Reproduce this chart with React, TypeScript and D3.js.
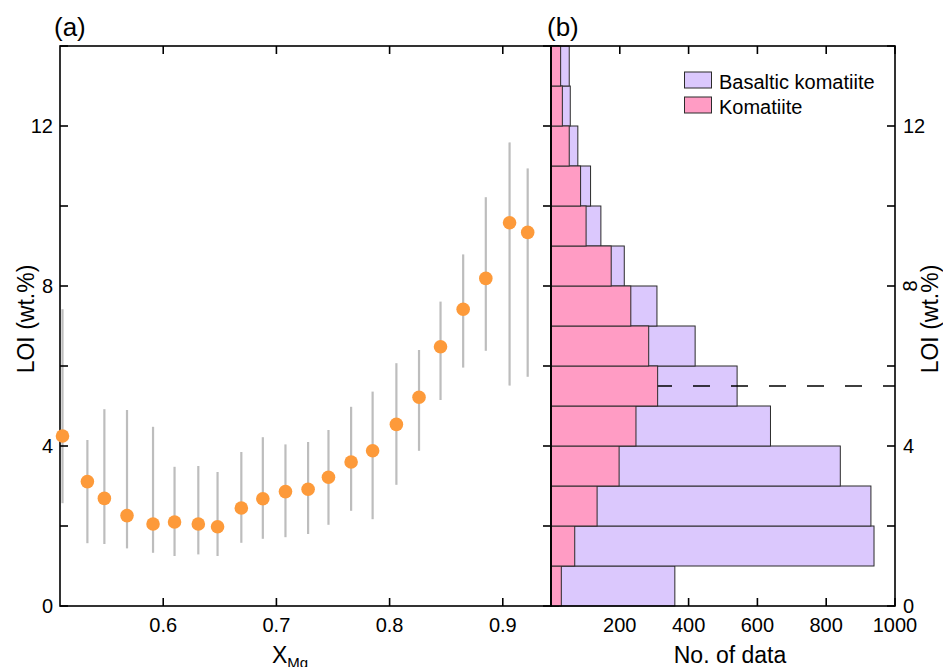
import React from "react";
import * as d3 from "d3";

const xmg = [0.511, 0.533, 0.548, 0.568, 0.591, 0.610, 0.631, 0.648, 0.669, 0.688, 0.708, 0.728, 0.746, 0.766, 0.785, 0.806, 0.826, 0.845, 0.865, 0.885, 0.906, 0.922];
const loi = [4.25, 3.11, 2.69, 2.26, 2.05, 2.10, 2.05, 1.98, 2.45, 2.68, 2.86, 2.92, 3.22, 3.60, 3.88, 4.54, 5.22, 6.48, 7.42, 8.19, 9.58, 9.34];
const errHigh = [7.42, 4.15, 4.92, 4.90, 4.48, 3.48, 3.50, 3.35, 3.85, 4.22, 4.04, 4.10, 4.40, 4.98, 5.36, 6.07, 6.40, 7.61, 8.79, 10.22, 11.59, 10.94];
const errLow = [2.57, 1.57, 1.55, 1.44, 1.33, 1.25, 1.29, 1.25, 1.58, 1.68, 1.72, 1.80, 2.03, 2.38, 2.17, 3.03, 3.88, 5.15, 5.96, 6.38, 5.51, 5.73];

const binStart = [0, 1, 2, 3, 4, 5, 6, 7, 8, 9, 10, 11, 12, 13];
const basaltic = [360, 939, 930, 841, 638, 541, 419, 308, 213, 145, 115, 78, 56, 53];
const komatiite = [30, 69, 134, 198, 247, 310, 284, 232, 175, 102, 86, 53, 33, 28];
const thresholdLOI = 5.5;

const xTicksL = [0.6, 0.7, 0.8, 0.9];
const xTicksR = [200, 400, 600, 800, 1000];
const yTicks = [0, 2, 4, 6, 8, 10, 12, 14];
const yLabels = [0, 4, 8, 12];

const FONT = "'Liberation Sans', Arial, Helvetica, sans-serif";
const PURPLE = "#dbc8fd";
const PINK = "#ff9cc4";
const ORANGE = "#fd9a3a";

export default function App() {
  const top = 46, bottom = 606;
  const lx0 = 60, lx1 = 551, rx0 = 551, rx1 = 895;
  const y = d3.scaleLinear().domain([0, 14]).range([bottom, top]);
  const xL = d3.scaleLinear().domain([0.5088, 0.9426]).range([lx0, lx1]);
  const xR = d3.scaleLinear().domain([0, 1000]).range([rx0, rx1]);
  const T = 8;
  const ax = { stroke: "#000", strokeWidth: 1.6, fill: "none" } as const;

  return (
    <div style={{ position: "absolute", left: 0, top: 0 }}>
      <svg width={943} height={667} style={{ display: "block", fontFamily: FONT }}>
        <rect x={0} y={0} width={943} height={667} fill="#fff" />

        {/* Panel labels */}
        <text x={54} y={36} fontSize={26}>(a)</text>
        <text x={547} y={36} fontSize={26}>(b)</text>

        {/* Left panel error bars */}
        {xmg.map((v, i) => (
          <line key={"e" + i} x1={xL(v)} x2={xL(v)} y1={y(errLow[i])} y2={y(errHigh[i])} stroke="#bdbdbd" strokeWidth={2.2} />
        ))}

        {/* Left panel axes/ticks */}
        {xTicksL.map((t) => (
          <g key={"xl" + t}>
            <line x1={xL(t)} x2={xL(t)} y1={bottom} y2={bottom - T} {...ax} />
            <line x1={xL(t)} x2={xL(t)} y1={top} y2={top + T} {...ax} />
            <text x={xL(t)} y={632} fontSize={20} textAnchor="middle">{t.toFixed(1)}</text>
          </g>
        ))}
        {yTicks.map((t) => (
          <g key={"yl" + t}>
            <line x1={lx0} x2={lx0 + T} y1={y(t)} y2={y(t)} {...ax} />
            <line x1={lx1} x2={lx1 - T} y1={y(t)} y2={y(t)} {...ax} />
          </g>
        ))}
        {yLabels.map((t) => (
          <text key={"yll" + t} x={53} y={y(t)} dy="0.35em" fontSize={20} textAnchor="end">{t}</text>
        ))}

        {/* Right panel ticks (drawn under bars) */}
        {xTicksR.map((t) => (
          <g key={"xr" + t}>
            <line x1={xR(t)} x2={xR(t)} y1={bottom} y2={bottom - T} {...ax} />
            <line x1={xR(t)} x2={xR(t)} y1={top} y2={top + T} {...ax} />
            <text x={xR(t)} y={632} fontSize={20} textAnchor="middle">{t}</text>
          </g>
        ))}
        {yTicks.map((t) => (
          <g key={"yr" + t}>
            <line x1={rx0} x2={rx0 + T} y1={y(t)} y2={y(t)} {...ax} />
            <line x1={rx1} x2={rx1 - T} y1={y(t)} y2={y(t)} {...ax} />
          </g>
        ))}
        {yLabels.map((t) =>
          t === 8 ? (
            <text key={"yrl" + t} x={910} y={y(t)} fontSize={20} textAnchor="middle" dy="0.35em"
              transform={`rotate(-90, 910, ${y(t)})`}>{t}</text>
          ) : (
            <text key={"yrl" + t} x={903} y={y(t)} dy="0.35em" fontSize={20} textAnchor="start">{t}</text>
          )
        )}

        {/* Histogram: basaltic komatiite */}
        {binStart.map((b, i) => (
          <rect key={"bk" + i} x={xR(0)} y={y(b + 1)} width={xR(basaltic[i]) - xR(0)} height={y(b) - y(b + 1)}
            fill={PURPLE} stroke="#2b2b2b" strokeWidth={1} />
        ))}
        {/* Dashed threshold line */}
        <line x1={xR(0)} x2={xR(1000)} y1={y(thresholdLOI)} y2={y(thresholdLOI)} stroke="#000" strokeWidth={1.3}
          strokeDasharray="17,21" strokeDashoffset={10} />
        {/* Histogram: komatiite */}
        {binStart.map((b, i) => (
          <rect key={"km" + i} x={xR(0)} y={y(b + 1)} width={xR(komatiite[i]) - xR(0)} height={y(b) - y(b + 1)}
            fill={PINK} stroke="#2b2b2b" strokeWidth={1} />
        ))}

        {/* Frames */}
        <rect x={lx0} y={top} width={lx1 - lx0} height={bottom - top} {...ax} />
        <rect x={rx0} y={top} width={rx1 - rx0} height={bottom - top} {...ax} />

        {/* Points */}
        {xmg.map((v, i) => (
          <circle key={"p" + i} cx={xL(v)} cy={y(loi[i])} r={6.8} fill={ORANGE} />
        ))}

        {/* Legend */}
        <rect x={684.5} y={72} width={27} height={16} fill={PURPLE} stroke="#2b2b2b" strokeWidth={1} />
        <text x={719} y={89} fontSize={20}>Basaltic komatiite</text>
        <rect x={684.5} y={97} width={27} height={16} fill={PINK} stroke="#2b2b2b" strokeWidth={1} />
        <text x={719} y={114} fontSize={20}>Komatiite</text>

        {/* Axis titles */}
        <text x={272} y={663} fontSize={23}>
          X<tspan fontSize={15} dy={5}>Mg</tspan>
        </text>
        <text x={730} y={663} fontSize={23} textAnchor="middle">No. of data</text>
        <text transform="translate(34,319) rotate(-90)" fontSize={23} textAnchor="middle">LOI (wt.%)</text>
        <text transform="translate(938,319) rotate(-90)" fontSize={23} textAnchor="middle">LOI (wt.%)</text>
      </svg>
    </div>
  );
}
